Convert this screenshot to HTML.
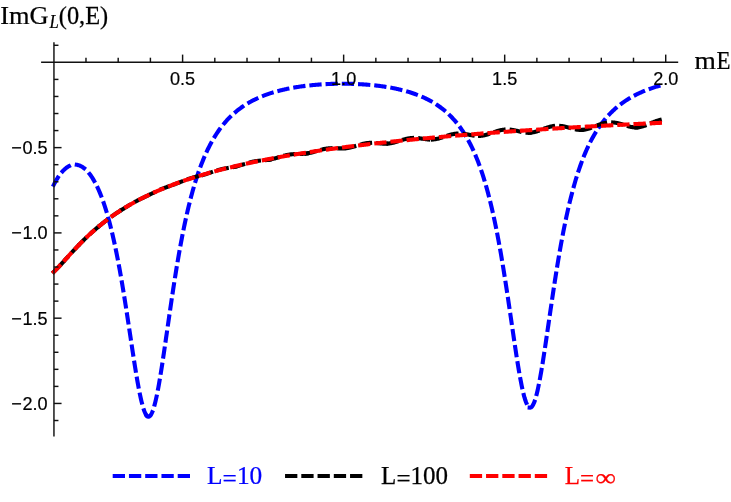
<!DOCTYPE html>
<html><head><meta charset="utf-8"><title>plot</title>
<style>
html,body{margin:0;padding:0;background:#fff;}
body{width:731px;height:502px;overflow:hidden;}
svg{display:block;will-change:transform;}
.sans{font-family:"Liberation Sans",sans-serif;font-size:18.1px;fill:#000;stroke:#000;stroke-width:0.2px;}
.serif{font-family:"Liberation Serif",serif;font-size:25px;stroke-width:0.25px;}
</style></head><body>
<svg width="731" height="502" viewBox="0 0 731 502">
<rect width="731" height="502" fill="#fff"/>
<g fill="none" stroke-width="4.1" stroke-dasharray="8.2 8.05" stroke-linejoin="round" stroke-linecap="square">
<path stroke="#0000ff" d="M53.78,184.83 L54.50,183.43 L55.23,182.07 L55.95,180.77 L56.68,179.52 L57.41,178.33 L58.13,177.18 L58.86,176.09 L59.58,175.06 L60.31,174.07 L61.03,173.14 L61.76,172.25 L62.49,171.42 L63.21,170.64 L63.94,169.91 L64.66,169.23 L65.39,168.59 L66.12,168.01 L66.84,167.47 L67.57,166.98 L68.29,166.54 L69.02,166.15 L69.74,165.80 L70.47,165.50 L71.20,165.24 L71.92,165.03 L72.65,164.87 L73.37,164.75 L74.10,164.67 L74.83,164.64 L75.55,164.66 L76.28,164.72 L77.00,164.82 L77.73,164.97 L78.45,165.17 L79.18,165.41 L79.91,165.69 L80.63,166.02 L81.36,166.40 L82.08,166.82 L82.81,167.28 L83.53,167.80 L84.26,168.35 L84.99,168.96 L85.71,169.61 L86.44,170.31 L87.16,171.06 L87.89,171.86 L88.62,172.70 L89.34,173.60 L90.07,174.55 L90.79,175.55 L91.52,176.60 L92.24,177.70 L92.97,178.86 L93.70,180.08 L94.42,181.35 L95.15,182.67 L95.87,184.06 L96.60,185.50 L97.32,187.00 L98.05,188.57 L98.78,190.19 L99.50,191.89 L100.23,193.64 L100.95,195.46 L101.68,197.35 L102.41,199.31 L103.13,201.34 L103.86,203.44 L104.58,205.62 L105.31,207.87 L106.03,210.19 L106.76,212.59 L107.49,215.08 L108.21,217.64 L108.94,220.28 L109.66,223.01 L110.39,225.82 L111.11,228.72 L111.84,231.71 L112.57,234.78 L113.29,237.94 L114.02,241.19 L114.74,244.53 L115.47,247.97 L116.20,251.49 L116.92,255.11 L117.65,258.81 L118.37,262.61 L119.10,266.50 L119.82,270.48 L120.55,274.54 L121.28,278.69 L122.00,282.93 L122.73,287.24 L123.45,291.63 L124.18,296.10 L124.90,300.63 L125.63,305.23 L126.36,309.88 L127.08,314.59 L127.81,319.34 L128.53,324.12 L129.26,328.93 L129.99,333.76 L130.71,338.59 L131.44,343.41 L132.16,348.22 L132.89,352.99 L133.61,357.72 L134.34,362.38 L135.07,366.97 L135.79,371.46 L136.52,375.84 L137.24,380.09 L137.97,384.19 L138.69,388.13 L139.42,391.88 L140.15,395.43 L140.87,398.76 L141.60,401.85 L142.32,404.69 L143.05,407.26 L143.78,409.55 L144.50,411.54 L145.23,413.21 L145.95,414.57 L146.68,415.60"/>
<path stroke="#0000ff" d="M146.68,415.60 L147.40,416.28 L148.11,416.63 L148.83,416.65 L149.55,416.33 L150.26,415.67 L150.98,414.69 L151.70,413.37 L152.42,411.74 L153.13,409.80 L153.85,407.55 L154.57,405.02 L155.28,402.21 L156.00,399.15 L156.72,395.83 L157.44,392.29 L158.15,388.54 L158.87,384.59 L159.59,380.47 L160.31,376.18 L161.02,371.75 L161.74,367.20 L162.46,362.54 L163.17,357.79 L163.89,352.96 L164.61,348.07 L165.33,343.13 L166.04,338.16 L166.76,333.17 L167.48,328.18 L168.19,323.18 L168.91,318.21 L169.63,313.25 L170.35,308.33 L171.06,303.44 L171.78,298.61 L172.50,293.82 L173.21,289.10 L173.93,284.44 L174.65,279.85 L175.37,275.33 L176.08,270.89 L176.80,266.52 L177.52,262.24 L178.23,258.04 L178.95,253.92 L179.67,249.88 L180.39,245.93 L181.10,242.07 L181.82,238.29 L182.54,234.59 L183.25,230.98 L183.97,227.46 L184.69,224.02 L185.41,220.66 L186.12,217.38 L186.84,214.18 L187.56,211.06 L188.28,208.02 L188.99,205.06 L189.71,202.17 L190.43,199.35 L191.14,196.60 L191.86,193.93 L192.58,191.32 L193.30,188.78 L194.01,186.31 L194.73,183.90 L195.45,181.55 L196.16,179.26 L196.88,177.04 L197.60,174.87 L198.32,172.75 L199.03,170.69 L199.75,168.68 L200.47,166.73 L201.18,164.83 L201.90,162.97 L202.62,161.16 L203.34,159.40 L204.05,157.68 L204.77,156.01 L205.49,154.38 L206.20,152.79 L206.92,151.23 L207.64,149.72 L208.36,148.25 L209.07,146.81 L209.79,145.41 L210.51,144.04 L211.22,142.71 L211.94,141.41 L212.66,140.14 L213.38,138.90 L214.09,137.70 L214.81,136.52 L215.53,135.37 L216.25,134.24 L216.96,133.15 L217.68,132.08 L218.40,131.03 L219.11,130.01 L219.83,129.01 L220.55,128.04 L221.27,127.09 L221.98,126.16 L222.70,125.25 L223.42,124.36 L224.13,123.50 L224.85,122.65 L225.57,121.82 L226.29,121.01 L227.00,120.22 L227.72,119.44 L228.44,118.69 L229.15,117.94 L229.87,117.22 L230.59,116.51 L231.31,115.82 L232.02,115.14 L232.74,114.48 L233.46,113.83 L234.17,113.19 L234.89,112.57 L235.61,111.96 L236.33,111.36 L237.04,110.78 L237.76,110.21 L238.48,109.65 L239.19,109.10 L239.91,108.56 L240.63,108.04 L241.35,107.52 L242.06,107.02 L242.78,106.52 L243.50,106.04 L244.22,105.56 L244.93,105.10 L245.65,104.64 L246.37,104.20 L247.08,103.76 L247.80,103.33 L248.52,102.91 L249.24,102.50 L249.95,102.09 L250.67,101.69 L251.39,101.31 L252.10,100.92 L252.82,100.55 L253.54,100.18 L254.26,99.82 L254.97,99.47 L255.69,99.12 L256.41,98.78 L257.12,98.45 L257.84,98.12 L258.56,97.80 L259.28,97.49 L259.99,97.18 L260.71,96.88 L261.43,96.58 L262.14,96.29 L262.86,96.00 L263.58,95.72 L264.30,95.44 L265.01,95.17 L265.73,94.91 L266.45,94.65 L267.16,94.39 L267.88,94.14 L268.60,93.89 L269.32,93.65 L270.03,93.42 L270.75,93.18 L271.47,92.95 L272.19,92.73 L272.90,92.51 L273.62,92.29 L274.34,92.08 L275.05,91.87 L275.77,91.67 L276.49,91.47 L277.21,91.27 L277.92,91.07 L278.64,90.89 L279.36,90.70 L280.07,90.52 L280.79,90.34 L281.51,90.16 L282.23,89.99 L282.94,89.82 L283.66,89.65 L284.38,89.49 L285.09,89.33 L285.81,89.17 L286.53,89.02 L287.25,88.86 L287.96,88.72 L288.68,88.57 L289.40,88.43 L290.11,88.29 L290.83,88.15 L291.55,88.02 L292.27,87.88 L292.98,87.75 L293.70,87.63 L294.42,87.50 L295.13,87.38 L295.85,87.26 L296.57,87.14 L297.29,87.03 L298.00,86.92 L298.72,86.81 L299.44,86.70 L300.16,86.59 L300.87,86.49 L301.59,86.39 L302.31,86.29 L303.02,86.20 L303.74,86.10 L304.46,86.01 L305.18,85.92 L305.89,85.83 L306.61,85.75 L307.33,85.66 L308.04,85.58 L308.76,85.50 L309.48,85.42 L310.20,85.34 L310.91,85.27 L311.63,85.20 L312.35,85.13 L313.06,85.06 L313.78,84.99 L314.50,84.93 L315.22,84.87 L315.93,84.80 L316.65,84.74 L317.37,84.69 L318.08,84.63 L318.80,84.58 L319.52,84.52 L320.24,84.47 L320.95,84.42 L321.67,84.38 L322.39,84.33 L323.10,84.29 L323.82,84.25 L324.54,84.21 L325.26,84.17 L325.97,84.13 L326.69,84.09 L327.41,84.06 L328.13,84.03 L328.84,84.00 L329.56,83.97 L330.28,83.94 L330.99,83.91 L331.71,83.89 L332.43,83.87 L333.15,83.84 L333.86,83.83 L334.58,83.81 L335.30,83.79 L336.01,83.78 L336.73,83.76 L337.45,83.75 L338.17,83.74 L338.88,83.73 L339.60,83.72 L340.32,83.72 L341.03,83.71 L341.75,83.71 L342.47,83.71 L343.19,83.71 L343.90,83.71 L344.62,83.72 L345.34,83.72 L346.05,83.73 L346.77,83.74 L347.49,83.75 L348.21,83.76 L348.92,83.77 L349.64,83.79 L350.36,83.80 L351.07,83.82 L351.79,83.84 L352.51,83.86 L353.23,83.89 L353.94,83.91 L354.66,83.94 L355.38,83.96 L356.10,83.99 L356.81,84.02 L357.53,84.06 L358.25,84.09 L358.96,84.13 L359.68,84.17 L360.40,84.20 L361.12,84.25 L361.83,84.29 L362.55,84.33 L363.27,84.38 L363.98,84.43 L364.70,84.48 L365.42,84.53 L366.14,84.58 L366.85,84.64 L367.57,84.69 L368.29,84.75 L369.00,84.81 L369.72,84.88 L370.44,84.94 L371.16,85.01 L371.87,85.08 L372.59,85.15 L373.31,85.22 L374.02,85.29 L374.74,85.37 L375.46,85.45 L376.18,85.53 L376.89,85.61 L377.61,85.70 L378.33,85.79 L379.04,85.87 L379.76,85.97 L380.48,86.06 L381.20,86.16 L381.91,86.25 L382.63,86.35 L383.35,86.46 L384.07,86.56 L384.78,86.67 L385.50,86.78 L386.22,86.89 L386.93,87.01 L387.65,87.13 L388.37,87.25 L389.09,87.37 L389.80,87.49 L390.52,87.62 L391.24,87.75 L391.95,87.89 L392.67,88.02 L393.39,88.16 L394.11,88.31 L394.82,88.45 L395.54,88.60 L396.26,88.75 L396.97,88.91 L397.69,89.06 L398.41,89.22 L399.13,89.39 L399.84,89.56 L400.56,89.73 L401.28,89.90 L401.99,90.08 L402.71,90.26 L403.43,90.45 L404.15,90.64 L404.86,90.83 L405.58,91.02 L406.30,91.22 L407.01,91.43 L407.73,91.64 L408.45,91.85 L409.17,92.07 L409.88,92.29 L410.60,92.51 L411.32,92.74 L412.04,92.98 L412.75,93.22 L413.47,93.46 L414.19,93.71 L414.90,93.96 L415.62,94.22 L416.34,94.49 L417.06,94.76 L417.77,95.03 L418.49,95.31 L419.21,95.60 L419.92,95.89 L420.64,96.19 L421.36,96.49 L422.08,96.80 L422.79,97.11 L423.51,97.43 L424.23,97.76 L424.94,98.10 L425.66,98.44 L426.38,98.79 L427.10,99.14 L427.81,99.51 L428.53,99.88 L429.25,100.26 L429.96,100.64 L430.68,101.04 L431.40,101.44 L432.12,101.85 L432.83,102.27 L433.55,102.70 L434.27,103.13 L434.98,103.58 L435.70,104.03 L436.42,104.50 L437.14,104.97 L437.85,105.46 L438.57,105.96 L439.29,106.46 L440.01,106.98 L440.72,107.51 L441.44,108.05 L442.16,108.60 L442.87,109.16 L443.59,109.74 L444.31,110.33 L445.03,110.93 L445.74,111.54 L446.46,112.17 L447.18,112.82 L447.89,113.47 L448.61,114.15 L449.33,114.83 L450.05,115.54 L450.76,116.26 L451.48,116.99 L452.20,117.75 L452.91,118.52 L453.63,119.31 L454.35,120.11 L455.07,120.94 L455.78,121.79 L456.50,122.65 L457.22,123.54 L457.93,124.45 L458.65,125.38 L459.37,126.33 L460.09,127.31 L460.80,128.31 L461.52,129.33 L462.24,130.38 L462.95,131.45 L463.67,132.56 L464.39,133.68 L465.11,134.84 L465.82,136.03 L466.54,137.25 L467.26,138.49 L467.98,139.77 L468.69,141.08 L469.41,142.43 L470.13,143.81 L470.84,145.23 L471.56,146.68 L472.28,148.17 L473.00,149.70 L473.71,151.27 L474.43,152.88 L475.15,154.54 L475.86,156.23 L476.58,157.97 L477.30,159.76 L478.02,161.60 L478.73,163.48 L479.45,165.42 L480.17,167.41 L480.88,169.45 L481.60,171.54 L482.32,173.70 L483.04,175.90 L483.75,178.17 L484.47,180.50 L485.19,182.90 L485.90,185.35 L486.62,187.87 L487.34,190.46 L488.06,193.12 L488.77,195.85 L489.49,198.65 L490.21,201.52 L490.92,204.47 L491.64,207.49 L492.36,210.59 L493.08,213.77 L493.79,217.03 L494.51,220.38 L495.23,223.80 L495.95,227.31 L496.66,230.90 L497.38,234.58 L498.10,238.34 L498.81,242.18 L499.53,246.11 L500.25,250.12 L500.97,254.22 L501.68,258.40 L502.40,262.65 L503.12,266.99 L503.83,271.41 L504.55,275.89 L505.27,280.45 L505.99,285.07 L506.70,289.75 L507.42,294.49 L508.14,299.28 L508.85,304.11 L509.57,308.98 L510.29,313.88 L511.01,318.79 L511.72,323.71 L512.44,328.63 L513.16,333.54 L513.87,338.42 L514.59,343.26 L515.31,348.04 L516.03,352.76 L516.74,357.39 L517.46,361.92 L518.18,366.34 L518.89,370.62 L519.61,374.75 L520.33,378.71 L521.05,382.49 L521.76,386.06 L522.48,389.41 L523.20,392.52 L523.92,395.38 L524.63,397.97 L525.35,400.28 L526.07,402.29 L526.78,404.00 L527.50,405.39 L528.22,406.46 L528.94,407.19 L529.65,407.59"/>
<path stroke="#0000ff" d="M529.65,407.59 L530.37,407.65 L531.09,407.38 L531.81,406.76 L532.53,405.81 L533.25,404.52 L533.97,402.92 L534.69,401.00 L535.41,398.78 L536.13,396.27 L536.85,393.49 L537.57,390.44 L538.29,387.15 L539.01,383.63 L539.73,379.89 L540.45,375.97 L541.17,371.86 L541.89,367.60 L542.61,363.20 L543.33,358.67 L544.05,354.03 L544.77,349.31 L545.49,344.51 L546.21,339.65 L546.93,334.75 L547.65,329.81 L548.37,324.86 L549.09,319.90 L549.81,314.95 L550.53,310.01 L551.25,305.10 L551.97,300.22 L552.69,295.38 L553.41,290.59 L554.13,285.85 L554.85,281.17 L555.57,276.56 L556.29,272.02 L557.01,267.55 L557.73,263.16 L558.45,258.84 L559.17,254.61 L559.89,250.46 L560.61,246.39 L561.33,242.40 L562.05,238.51 L562.77,234.69 L563.49,230.96 L564.21,227.32 L564.93,223.76 L565.65,220.28 L566.37,216.89 L567.09,213.58 L567.81,210.35 L568.53,207.20 L569.25,204.13 L569.97,201.14 L570.69,198.22 L571.41,195.38 L572.13,192.60 L572.85,189.90 L573.57,187.27 L574.29,184.71 L575.01,182.21 L575.72,179.78 L576.44,177.41 L577.16,175.11 L577.88,172.86 L578.60,170.67 L579.32,168.54 L580.04,166.46 L580.76,164.44 L581.48,162.47 L582.20,160.55 L582.92,158.68 L583.64,156.86 L584.36,155.08 L585.08,153.35 L585.80,151.67 L586.52,150.02 L587.24,148.42 L587.96,146.86 L588.68,145.34 L589.40,143.86 L590.12,142.41 L590.84,141.00 L591.56,139.63 L592.28,138.29 L593.00,136.98 L593.72,135.70 L594.44,134.46 L595.16,133.24 L595.88,132.06 L596.60,130.90 L597.32,129.77 L598.04,128.67 L598.76,127.59 L599.48,126.54 L600.20,125.52 L600.92,124.51 L601.64,123.53 L602.36,122.58 L603.08,121.64 L603.80,120.73 L604.52,119.84 L605.24,118.97 L605.96,118.11 L606.68,117.28 L607.40,116.47 L608.12,115.67 L608.84,114.89 L609.56,114.13 L610.28,113.38 L611.00,112.65 L611.72,111.94 L612.44,111.24 L613.16,110.56 L613.88,109.89 L614.60,109.23 L615.32,108.59 L616.04,107.97 L616.76,107.35 L617.48,106.75 L618.20,106.16 L618.92,105.58 L619.64,105.02 L620.36,104.46 L621.08,103.92 L621.80,103.39 L622.52,102.86 L623.24,102.35 L623.96,101.85 L624.68,101.36 L625.40,100.88 L626.12,100.40 L626.84,99.94 L627.56,99.49 L628.28,99.04 L629.00,98.60 L629.72,98.17 L630.44,97.75 L631.16,97.34 L631.88,96.93 L632.60,96.53 L633.32,96.14 L634.04,95.76 L634.76,95.38 L635.48,95.01 L636.19,94.65 L636.91,94.29 L637.63,93.94 L638.35,93.60 L639.07,93.26 L639.79,92.93 L640.51,92.60 L641.23,92.28 L641.95,91.97 L642.67,91.66 L643.39,91.35 L644.11,91.05 L644.83,90.76 L645.55,90.47 L646.27,90.19 L646.99,89.91 L647.71,89.63 L648.43,89.36 L649.15,89.09 L649.87,88.83 L650.59,88.58 L651.31,88.32 L652.03,88.07 L652.75,87.83 L653.47,87.59 L654.19,87.35 L654.91,87.12 L655.63,86.89 L656.35,86.66 L657.07,86.44 L657.79,86.22 L658.51,86.00 L659.23,85.79 L659.95,85.58 L660.67,85.38 L661.39,85.18 L662.11,84.98 L662.83,84.78 L663.55,84.59 L664.27,84.39 L664.99,84.21 L665.71,84.02"/>
<path stroke="#000000" d="M53.78,271.85 L54.27,271.37 L54.76,270.89 L55.26,270.40 L55.75,269.91 L56.25,269.41 L56.74,268.90 L57.23,268.39 L57.73,267.88 L58.22,267.36 L58.72,266.84 L59.21,266.31 L59.70,265.78 L60.20,265.25 L60.69,264.71 L61.18,264.18 L61.68,263.64"/>
<path stroke="#000000" d="M61.68,263.64 L62.15,263.12 L62.63,262.59 L63.10,262.07 L63.58,261.55 L64.05,261.02 L64.53,260.50 L65.00,259.97 L65.47,259.45 L65.95,258.92 L66.42,258.39 L66.90,257.87 L67.37,257.34 L67.85,256.82 L68.32,256.29 L68.80,255.77 L69.27,255.24 L69.75,254.72 L70.22,254.20 L70.69,253.68 L71.17,253.16 L71.64,252.64 L72.12,252.12 L72.59,251.61 L73.07,251.10 L73.54,250.58 L74.02,250.07 L74.49,249.56 L74.96,249.06 L75.44,248.55 L75.91,248.05 L76.39,247.55 L76.86,247.05 L77.34,246.55 L77.81,246.06 L78.29,245.56 L78.76,245.07 L79.24,244.58 L79.71,244.10"/>
<path stroke="#000000" d="M79.71,244.10 L80.19,243.61 L80.66,243.12 L81.14,242.64 L81.62,242.16 L82.10,241.68 L82.57,241.20 L83.05,240.73 L83.53,240.25 L84.01,239.78 L84.48,239.32 L84.96,238.85 L85.44,238.39 L85.92,237.92 L86.39,237.47 L86.87,237.01 L87.35,236.55 L87.82,236.10 L88.30,235.65 L88.78,235.21 L89.26,234.76 L89.73,234.32 L90.21,233.88 L90.69,233.44 L91.17,233.01 L91.64,232.58 L92.12,232.15 L92.60,231.72 L93.08,231.30 L93.55,230.88 L94.03,230.46 L94.51,230.04 L94.98,229.63 L95.46,229.22 L95.94,228.81 L96.42,228.40 L96.89,228.00 L97.37,227.60 L97.85,227.20 L98.33,226.80 L98.80,226.41 L99.28,226.01 L99.76,225.62"/>
<path stroke="#000000" d="M99.76,225.62 L100.23,225.23 L100.71,224.85 L101.18,224.47 L101.65,224.08 L102.13,223.71 L102.60,223.33 L103.08,222.95 L103.55,222.58 L104.03,222.20 L104.50,221.83 L104.97,221.47 L105.45,221.10 L105.92,220.73 L106.40,220.37 L106.87,220.01 L107.34,219.65 L107.82,219.29 L108.29,218.94 L108.77,218.58 L109.24,218.23 L109.71,217.89 L110.19,217.54 L110.66,217.20 L111.14,216.85 L111.61,216.52 L112.09,216.18 L112.56,215.84 L113.03,215.51 L113.51,215.18 L113.98,214.86 L114.46,214.53 L114.93,214.21 L115.40,213.89 L115.88,213.57 L116.35,213.26 L116.83,212.94 L117.30,212.63 L117.77,212.32 L118.25,212.01 L118.72,211.70 L119.20,211.40 L119.67,211.09 L120.15,210.79 L120.62,210.49 L121.09,210.19 L121.57,209.89 L122.04,209.59"/>
<path stroke="#000000" d="M122.04,209.59 L122.52,209.30 L122.99,209.00 L123.46,208.71 L123.94,208.41 L124.41,208.12 L124.88,207.82 L125.36,207.53 L125.83,207.24 L126.31,206.95 L126.78,206.66 L127.25,206.37 L127.73,206.09 L128.20,205.80 L128.67,205.52 L129.15,205.23 L129.62,204.95 L130.10,204.67 L130.57,204.39 L131.04,204.11 L131.52,203.84 L131.99,203.56 L132.47,203.29 L132.94,203.02 L133.41,202.75 L133.89,202.49 L134.36,202.22 L134.83,201.96 L135.31,201.70 L135.78,201.45 L136.26,201.19 L136.73,200.94 L137.20,200.69 L137.68,200.44 L138.15,200.20 L138.62,199.95 L139.10,199.71 L139.57,199.47 L140.05,199.24 L140.52,199.00 L140.99,198.77 L141.47,198.53 L141.94,198.30 L142.41,198.07 L142.89,197.84 L143.36,197.61 L143.84,197.38 L144.31,197.16 L144.78,196.93 L145.26,196.70 L145.73,196.47 L146.20,196.25 L146.68,196.02"/>
<path stroke="#000000" d="M146.68,196.02 L147.15,195.79 L147.63,195.57 L148.10,195.34 L148.58,195.11 L149.05,194.88 L149.53,194.65 L150.00,194.42 L150.48,194.20 L150.95,193.97 L151.43,193.74 L151.90,193.51 L152.37,193.28 L152.85,193.05 L153.32,192.82 L153.80,192.60 L154.27,192.37 L154.75,192.14 L155.22,191.92 L155.70,191.70 L156.17,191.47 L156.65,191.25 L157.12,191.03 L157.60,190.82 L158.07,190.60 L158.54,190.39 L159.02,190.18 L159.49,189.97 L159.97,189.76 L160.44,189.56 L160.92,189.36 L161.39,189.16 L161.87,188.96 L162.34,188.77 L162.82,188.58 L163.29,188.39 L163.77,188.21 L164.24,188.02 L164.72,187.84 L165.19,187.66 L165.66,187.48 L166.14,187.31 L166.61,187.13 L167.09,186.96 L167.56,186.79 L168.04,186.62 L168.51,186.45 L168.99,186.28 L169.46,186.11 L169.94,185.94 L170.41,185.77 L170.89,185.60 L171.36,185.43 L171.84,185.26 L172.31,185.09 L172.78,184.92 L173.26,184.74 L173.73,184.57"/>
<path stroke="#000000" d="M173.73,184.57 L174.20,184.40 L174.67,184.22 L175.14,184.05 L175.61,183.87 L176.08,183.69 L176.54,183.51 L177.01,183.33 L177.48,183.15 L177.95,182.97 L178.42,182.79 L178.89,182.60 L179.36,182.42 L179.82,182.23 L180.29,182.05 L180.76,181.86 L181.23,181.68 L181.70,181.49 L182.17,181.30 L182.63,181.12 L183.10,180.94 L183.57,180.75 L184.04,180.57 L184.51,180.39 L184.98,180.22 L185.45,180.04 L185.91,179.87 L186.38,179.70 L186.85,179.53 L187.32,179.36 L187.79,179.20 L188.26,179.04 L188.72,178.88 L189.19,178.73 L189.66,178.57 L190.13,178.42 L190.60,178.28 L191.07,178.14 L191.54,178.00 L192.00,177.86 L192.47,177.72 L192.94,177.59 L193.41,177.46 L193.88,177.33 L194.35,177.21 L194.81,177.08 L195.28,176.96 L195.75,176.84 L196.22,176.72 L196.69,176.60 L197.16,176.48 L197.63,176.36 L198.09,176.24 L198.56,176.12 L199.03,176.00 L199.50,175.89 L199.97,175.76 L200.44,175.64 L200.90,175.52 L201.37,175.39 L201.84,175.27 L202.31,175.14 L202.78,175.01 L203.25,174.88"/>
<path stroke="#000000" d="M203.25,174.88 L203.72,174.74 L204.19,174.60 L204.66,174.47 L205.13,174.32 L205.60,174.18 L206.07,174.03 L206.54,173.88 L207.01,173.73 L207.48,173.58 L207.95,173.42 L208.42,173.27 L208.89,173.11 L209.36,172.95 L209.83,172.79 L210.31,172.63 L210.78,172.47 L211.25,172.30 L211.72,172.14 L212.19,171.98 L212.66,171.82 L213.13,171.66 L213.60,171.50 L214.07,171.34 L214.54,171.19 L215.01,171.03 L215.48,170.88 L215.95,170.73 L216.42,170.58 L216.89,170.44 L217.36,170.30 L217.83,170.16 L218.30,170.02 L218.77,169.89 L219.25,169.76 L219.72,169.64 L220.19,169.52 L220.66,169.40 L221.13,169.29 L221.60,169.18 L222.07,169.07 L222.54,168.97 L223.01,168.87 L223.48,168.77 L223.95,168.67 L224.42,168.58 L224.89,168.50 L225.36,168.41 L225.83,168.32 L226.30,168.24 L226.77,168.16 L227.24,168.08 L227.71,168.00 L228.19,167.93 L228.66,167.85 L229.13,167.77 L229.60,167.69 L230.07,167.61 L230.54,167.53 L231.01,167.45 L231.48,167.37 L231.95,167.28 L232.42,167.20 L232.89,167.11 L233.36,167.02 L233.83,166.92 L234.30,166.83 L234.77,166.73 L235.24,166.62"/>
<path stroke="#000000" d="M235.24,166.62 L235.72,166.52 L236.19,166.41 L236.66,166.29 L237.13,166.18 L237.61,166.05 L238.08,165.93 L238.55,165.80 L239.02,165.67 L239.50,165.54 L239.97,165.40 L240.44,165.27 L240.91,165.13 L241.39,164.98 L241.86,164.84 L242.33,164.69 L242.80,164.54 L243.28,164.40 L243.75,164.25 L244.22,164.10 L244.69,163.95 L245.17,163.80 L245.64,163.65 L246.11,163.51 L246.58,163.36 L247.06,163.22 L247.53,163.08 L248.00,162.94 L248.47,162.80 L248.95,162.67 L249.42,162.54 L249.89,162.41 L250.37,162.29 L250.84,162.17 L251.31,162.05 L251.78,161.94 L252.26,161.83 L252.73,161.73 L253.20,161.63 L253.67,161.54 L254.15,161.45 L254.62,161.36 L255.09,161.28 L255.56,161.21 L256.04,161.13 L256.51,161.06 L256.98,161.00 L257.45,160.94 L257.93,160.88 L258.40,160.82 L258.87,160.77 L259.34,160.72 L259.82,160.67 L260.29,160.63 L260.76,160.58 L261.23,160.54 L261.71,160.50 L262.18,160.45 L262.65,160.41 L263.12,160.37 L263.60,160.33 L264.07,160.28 L264.54,160.24 L265.01,160.19 L265.49,160.14 L265.96,160.09 L266.43,160.03 L266.90,159.97 L267.38,159.91 L267.85,159.85 L268.32,159.78 L268.79,159.71 L269.27,159.63 L269.74,159.55"/>
<path stroke="#000000" d="M269.74,159.55 L270.21,159.46 L270.68,159.37 L271.15,159.28 L271.61,159.18 L272.08,159.08 L272.55,158.98 L273.02,158.87 L273.49,158.75 L273.96,158.63 L274.42,158.51 L274.89,158.39 L275.36,158.26 L275.83,158.13 L276.30,157.99 L276.77,157.86 L277.23,157.72 L277.70,157.58 L278.17,157.44 L278.64,157.30 L279.11,157.16 L279.58,157.02 L280.05,156.87 L280.51,156.73 L280.98,156.59 L281.45,156.45 L281.92,156.32 L282.39,156.18 L282.86,156.05 L283.32,155.92 L283.79,155.79 L284.26,155.67 L284.73,155.55 L285.20,155.43 L285.67,155.32 L286.14,155.21 L286.60,155.11 L287.07,155.01 L287.54,154.92 L288.01,154.83 L288.48,154.74 L288.95,154.67 L289.41,154.59 L289.88,154.52 L290.35,154.46 L290.82,154.40 L291.29,154.35 L291.76,154.30 L292.23,154.26 L292.69,154.22 L293.16,154.18 L293.63,154.15 L294.10,154.12 L294.57,154.09 L295.04,154.07 L295.50,154.05 L295.97,154.04 L296.44,154.02 L296.91,154.01 L297.38,154.00 L297.85,153.99 L298.31,153.98 L298.78,153.97 L299.25,153.96 L299.72,153.94 L300.19,153.93 L300.66,153.92 L301.13,153.90 L301.59,153.88 L302.06,153.86 L302.53,153.84 L303.00,153.81 L303.47,153.78 L303.94,153.75 L304.40,153.71 L304.87,153.67 L305.34,153.62 L305.81,153.56 L306.28,153.51 L306.75,153.44"/>
<path stroke="#000000" d="M306.75,153.44 L307.22,153.38 L307.69,153.30 L308.16,153.22 L308.63,153.14 L309.10,153.05 L309.57,152.95 L310.04,152.85 L310.51,152.75 L310.98,152.64 L311.45,152.52 L311.92,152.41 L312.39,152.28 L312.86,152.16 L313.33,152.03 L313.81,151.90 L314.28,151.76 L314.75,151.62 L315.22,151.48 L315.69,151.34 L316.16,151.20 L316.63,151.06 L317.10,150.92 L317.57,150.77 L318.04,150.63 L318.51,150.49 L318.98,150.35 L319.45,150.21 L319.92,150.08 L320.39,149.94 L320.86,149.81 L321.33,149.69 L321.80,149.57 L322.27,149.45 L322.75,149.33 L323.22,149.22 L323.69,149.12 L324.16,149.02 L324.63,148.92 L325.10,148.83 L325.57,148.75 L326.04,148.67 L326.51,148.60 L326.98,148.53 L327.45,148.47 L327.92,148.41 L328.39,148.36 L328.86,148.32 L329.33,148.28 L329.80,148.25 L330.27,148.22 L330.74,148.20 L331.22,148.18 L331.69,148.17 L332.16,148.16 L332.63,148.16 L333.10,148.16 L333.57,148.17 L334.04,148.17 L334.51,148.18 L334.98,148.19 L335.45,148.21 L335.92,148.23 L336.39,148.24 L336.86,148.26 L337.33,148.28 L337.80,148.30 L338.27,148.32 L338.74,148.33 L339.21,148.35 L339.68,148.36 L340.16,148.37 L340.63,148.38 L341.10,148.39 L341.57,148.39 L342.04,148.39 L342.51,148.38 L342.98,148.37 L343.45,148.36 L343.92,148.34 L344.39,148.31 L344.86,148.28 L345.33,148.24 L345.80,148.20 L346.27,148.15"/>
<path stroke="#000000" d="M346.27,148.15 L346.74,148.09 L347.21,148.03 L347.67,147.96 L348.14,147.89 L348.61,147.81 L349.08,147.72 L349.54,147.63 L350.01,147.53 L350.48,147.43 L350.94,147.32 L351.41,147.21 L351.88,147.09 L352.35,146.97 L352.81,146.84 L353.28,146.71 L353.75,146.58 L354.22,146.44 L354.68,146.30 L355.15,146.16 L355.62,146.02 L356.08,145.87 L356.55,145.73 L357.02,145.58 L357.49,145.44 L357.95,145.29 L358.42,145.15 L358.89,145.00 L359.35,144.86 L359.82,144.72 L360.29,144.59 L360.76,144.45 L361.22,144.32 L361.69,144.20 L362.16,144.08 L362.63,143.96 L363.09,143.84 L363.56,143.74 L364.03,143.63 L364.49,143.54 L364.96,143.44 L365.43,143.36 L365.90,143.28 L366.36,143.20 L366.83,143.14 L367.30,143.08 L367.76,143.02 L368.23,142.97 L368.70,142.93 L369.17,142.89 L369.63,142.87 L370.10,142.84 L370.57,142.82 L371.04,142.81 L371.50,142.81 L371.97,142.81 L372.44,142.81 L372.90,142.82 L373.37,142.84 L373.84,142.86 L374.31,142.88 L374.77,142.91 L375.24,142.94 L375.71,142.98 L376.17,143.01 L376.64,143.05 L377.11,143.09 L377.58,143.14 L378.04,143.18 L378.51,143.23 L378.98,143.27 L379.45,143.31 L379.91,143.36 L380.38,143.40 L380.85,143.44 L381.31,143.48 L381.78,143.51 L382.25,143.55 L382.72,143.58 L383.18,143.60 L383.65,143.62 L384.12,143.64 L384.58,143.65 L385.05,143.66 L385.52,143.66 L385.99,143.65 L386.45,143.64 L386.92,143.62 L387.39,143.59 L387.86,143.56 L388.32,143.52"/>
<path stroke="#000000" d="M388.32,143.52 L388.79,143.48 L389.26,143.42 L389.73,143.36 L390.20,143.30 L390.67,143.22 L391.14,143.14 L391.61,143.06 L392.08,142.96 L392.55,142.86 L393.01,142.75 L393.48,142.64 L393.95,142.52 L394.42,142.40 L394.89,142.27 L395.36,142.14 L395.83,142.01 L396.30,141.87 L396.77,141.72 L397.24,141.58 L397.71,141.43 L398.18,141.28 L398.65,141.13 L399.11,140.97 L399.58,140.82 L400.05,140.67 L400.52,140.52 L400.99,140.36 L401.46,140.21 L401.93,140.07 L402.40,139.92 L402.87,139.78 L403.34,139.64 L403.81,139.50 L404.28,139.37 L404.75,139.24 L405.22,139.12 L405.68,139.00 L406.15,138.88 L406.62,138.78 L407.09,138.67 L407.56,138.58 L408.03,138.49 L408.50,138.41 L408.97,138.33 L409.44,138.26 L409.91,138.20 L410.38,138.14 L410.85,138.09 L411.32,138.05 L411.78,138.01 L412.25,137.98 L412.72,137.96 L413.19,137.95 L413.66,137.94 L414.13,137.94 L414.60,137.94 L415.07,137.95 L415.54,137.97 L416.01,138.00 L416.48,138.02 L416.95,138.06 L417.42,138.10 L417.88,138.14 L418.35,138.19 L418.82,138.24 L419.29,138.30 L419.76,138.36 L420.23,138.42 L420.70,138.48 L421.17,138.55 L421.64,138.62 L422.11,138.69 L422.58,138.75 L423.05,138.82 L423.52,138.89 L423.98,138.96 L424.45,139.03 L424.92,139.09 L425.39,139.15 L425.86,139.21 L426.33,139.27 L426.80,139.32 L427.27,139.36 L427.74,139.41 L428.21,139.44 L428.68,139.48 L429.15,139.50 L429.62,139.52 L430.09,139.54 L430.55,139.54 L431.02,139.54 L431.49,139.54 L431.96,139.52 L432.43,139.50 L432.90,139.47"/>
<path stroke="#000000" d="M432.90,139.47 L433.37,139.43 L433.83,139.38 L434.30,139.33 L434.77,139.27 L435.23,139.20 L435.70,139.12 L436.17,139.04 L436.63,138.95 L437.10,138.85 L437.56,138.75 L438.03,138.64 L438.50,138.52 L438.96,138.40 L439.43,138.27 L439.90,138.14 L440.36,138.00 L440.83,137.85 L441.30,137.71 L441.76,137.56 L442.23,137.41 L442.70,137.25 L443.16,137.09 L443.63,136.94 L444.09,136.78 L444.56,136.62 L445.03,136.46 L445.49,136.30 L445.96,136.14 L446.43,135.98 L446.89,135.82 L447.36,135.67 L447.83,135.52 L448.29,135.37 L448.76,135.23 L449.23,135.08 L449.69,134.95 L450.16,134.82 L450.62,134.69 L451.09,134.57 L451.56,134.45 L452.02,134.34 L452.49,134.24 L452.96,134.14 L453.42,134.05 L453.89,133.96 L454.36,133.88 L454.82,133.81 L455.29,133.75 L455.76,133.69 L456.22,133.64 L456.69,133.60 L457.15,133.57 L457.62,133.54 L458.09,133.52 L458.55,133.51 L459.02,133.50 L459.49,133.51 L459.95,133.51 L460.42,133.53 L460.89,133.55 L461.35,133.58 L461.82,133.62 L462.29,133.66 L462.75,133.71 L463.22,133.76 L463.68,133.82 L464.15,133.88 L464.62,133.95 L465.08,134.02 L465.55,134.09 L466.02,134.17 L466.48,134.25 L466.95,134.34 L467.42,134.43 L467.88,134.51 L468.35,134.60 L468.82,134.69 L469.28,134.79 L469.75,134.88 L470.21,134.97 L470.68,135.05 L471.15,135.14 L471.61,135.23 L472.08,135.31 L472.55,135.39 L473.01,135.46 L473.48,135.54 L473.95,135.60 L474.41,135.66 L474.88,135.72 L475.35,135.77 L475.81,135.82 L476.28,135.85 L476.74,135.89 L477.21,135.91 L477.68,135.93 L478.14,135.94 L478.61,135.94 L479.08,135.93 L479.54,135.92 L480.01,135.89"/>
<path stroke="#000000" d="M480.01,135.89 L480.48,135.86 L480.95,135.82 L481.41,135.77 L481.88,135.71 L482.35,135.65 L482.82,135.57 L483.29,135.49 L483.76,135.40 L484.22,135.30 L484.69,135.20 L485.16,135.09 L485.63,134.97 L486.10,134.84 L486.57,134.71 L487.03,134.57 L487.50,134.43 L487.97,134.28 L488.44,134.13 L488.91,133.97 L489.38,133.81 L489.84,133.65 L490.31,133.49 L490.78,133.32 L491.25,133.15 L491.72,132.98 L492.19,132.81 L492.65,132.64 L493.12,132.47 L493.59,132.30 L494.06,132.13 L494.53,131.97 L495.00,131.80 L495.46,131.64 L495.93,131.49 L496.40,131.33 L496.87,131.18 L497.34,131.04 L497.81,130.90 L498.27,130.76 L498.74,130.63 L499.21,130.51 L499.68,130.39 L500.15,130.27 L500.62,130.17 L501.08,130.07 L501.55,129.98 L502.02,129.89 L502.49,129.81 L502.96,129.74 L503.43,129.68 L503.89,129.62 L504.36,129.58 L504.83,129.54 L505.30,129.50 L505.77,129.48 L506.24,129.46 L506.70,129.45 L507.17,129.45 L507.64,129.46 L508.11,129.47 L508.58,129.49 L509.05,129.52 L509.51,129.56 L509.98,129.60 L510.45,129.65 L510.92,129.71 L511.39,129.77 L511.86,129.84 L512.32,129.91 L512.79,129.99 L513.26,130.07 L513.73,130.16 L514.20,130.25 L514.67,130.35 L515.13,130.45 L515.60,130.55 L516.07,130.66 L516.54,130.76 L517.01,130.87 L517.48,130.99 L517.94,131.10 L518.41,131.21 L518.88,131.32 L519.35,131.43 L519.82,131.54 L520.29,131.65 L520.75,131.75 L521.22,131.86 L521.69,131.96 L522.16,132.05 L522.63,132.14 L523.10,132.23 L523.56,132.31 L524.03,132.39 L524.50,132.46 L524.97,132.52 L525.44,132.58 L525.91,132.63 L526.37,132.67 L526.84,132.70 L527.31,132.73 L527.78,132.74 L528.25,132.75 L528.72,132.75 L529.18,132.74 L529.65,132.73"/>
<path stroke="#000000" d="M529.65,132.73 L530.12,132.70 L530.58,132.66 L531.05,132.62 L531.52,132.56 L531.98,132.50 L532.45,132.43 L532.91,132.35 L533.38,132.26 L533.85,132.16 L534.31,132.06 L534.78,131.95 L535.24,131.83 L535.71,131.70 L536.17,131.57 L536.64,131.43 L537.11,131.28 L537.57,131.13 L538.04,130.97 L538.50,130.81 L538.97,130.65 L539.44,130.48 L539.90,130.31 L540.37,130.14 L540.83,129.96 L541.30,129.78 L541.77,129.60 L542.23,129.43 L542.70,129.25 L543.16,129.07 L543.63,128.89 L544.09,128.71 L544.56,128.54 L545.03,128.36 L545.49,128.19 L545.96,128.03 L546.42,127.86 L546.89,127.70 L547.36,127.55 L547.82,127.40 L548.29,127.25 L548.75,127.11 L549.22,126.98 L549.69,126.85 L550.15,126.72 L550.62,126.61 L551.08,126.50 L551.55,126.39 L552.01,126.30 L552.48,126.21 L552.95,126.13 L553.41,126.05 L553.88,125.99 L554.34,125.93 L554.81,125.88 L555.28,125.83 L555.74,125.80 L556.21,125.77 L556.67,125.75 L557.14,125.74 L557.61,125.74 L558.07,125.74 L558.54,125.76 L559.00,125.78 L559.47,125.80 L559.93,125.84 L560.40,125.88 L560.87,125.93 L561.33,125.99 L561.80,126.05 L562.26,126.12 L562.73,126.20 L563.20,126.28 L563.66,126.37 L564.13,126.46 L564.59,126.56 L565.06,126.67 L565.53,126.77 L565.99,126.89 L566.46,127.00 L566.92,127.12 L567.39,127.24 L567.85,127.37 L568.32,127.49 L568.79,127.62 L569.25,127.75 L569.72,127.88 L570.18,128.01 L570.65,128.14 L571.12,128.27 L571.58,128.40 L572.05,128.52 L572.51,128.65 L572.98,128.77 L573.45,128.88 L573.91,129.00 L574.38,129.11 L574.84,129.21 L575.31,129.31 L575.77,129.40 L576.24,129.49 L576.71,129.57 L577.17,129.64 L577.64,129.71 L578.10,129.76 L578.57,129.81 L579.04,129.85 L579.50,129.89 L579.97,129.91 L580.43,129.92 L580.90,129.93 L581.36,129.93 L581.83,129.91"/>
<path stroke="#000000" d="M581.83,129.91 L582.30,129.89 L582.77,129.86 L583.23,129.81 L583.70,129.76 L584.17,129.70 L584.64,129.63 L585.10,129.55 L585.57,129.46 L586.04,129.36 L586.51,129.26 L586.97,129.14 L587.44,129.02 L587.91,128.89 L588.38,128.75 L588.85,128.61 L589.31,128.46 L589.78,128.30 L590.25,128.14 L590.72,127.97 L591.18,127.80 L591.65,127.62 L592.12,127.44 L592.59,127.26 L593.05,127.08 L593.52,126.89 L593.99,126.70 L594.46,126.51 L594.92,126.32 L595.39,126.13 L595.86,125.94 L596.33,125.75 L596.80,125.57 L597.26,125.38 L597.73,125.20 L598.20,125.02 L598.67,124.84 L599.13,124.67 L599.60,124.50 L600.07,124.33 L600.54,124.17 L601.00,124.02 L601.47,123.87 L601.94,123.72 L602.41,123.58 L602.87,123.45 L603.34,123.32 L603.81,123.20 L604.28,123.09 L604.75,122.99 L605.21,122.89 L605.68,122.80 L606.15,122.71 L606.62,122.64 L607.08,122.57 L607.55,122.51 L608.02,122.46 L608.49,122.42 L608.95,122.38 L609.42,122.36 L609.89,122.34 L610.36,122.33 L610.82,122.32 L611.29,122.33 L611.76,122.34 L612.23,122.36 L612.70,122.39 L613.16,122.43 L613.63,122.48 L614.10,122.53 L614.57,122.59 L615.03,122.66 L615.50,122.73 L615.97,122.81 L616.44,122.90 L616.90,122.99 L617.37,123.09 L617.84,123.20 L618.31,123.31 L618.77,123.43 L619.24,123.55 L619.71,123.67 L620.18,123.80 L620.65,123.94 L621.11,124.07 L621.58,124.21 L622.05,124.36 L622.52,124.50 L622.98,124.65 L623.45,124.79 L623.92,124.94 L624.39,125.09 L624.85,125.24 L625.32,125.38 L625.79,125.53 L626.26,125.67 L626.73,125.81 L627.19,125.95 L627.66,126.09 L628.13,126.22 L628.60,126.34 L629.06,126.47 L629.53,126.58 L630.00,126.69 L630.47,126.80 L630.93,126.89 L631.40,126.98 L631.87,127.07 L632.34,127.14 L632.80,127.21 L633.27,127.26 L633.74,127.31 L634.21,127.35 L634.68,127.38 L635.14,127.40 L635.61,127.41 L636.08,127.41 L636.55,127.40"/>
<path stroke="#000000" d="M636.55,127.40 L637.02,127.38 L637.49,127.35 L637.96,127.31 L638.43,127.26 L638.90,127.20 L639.37,127.13 L639.84,127.05 L640.31,126.96 L640.78,126.86 L641.25,126.75 L641.72,126.63 L642.19,126.50 L642.66,126.37 L643.13,126.23 L643.60,126.08 L644.07,125.92 L644.54,125.76 L645.01,125.59 L645.48,125.42 L645.95,125.24 L646.42,125.05 L646.89,124.87 L647.36,124.67 L647.84,124.48 L648.31,124.28 L648.78,124.09 L649.25,123.89 L649.72,123.69 L650.19,123.48 L650.66,123.28 L651.13,123.08 L651.60,122.88 L652.07,122.69 L652.54,122.49 L653.01,122.30 L653.48,122.11 L653.95,121.92 L654.42,121.74 L654.89,121.56 L655.36,121.38 L655.83,121.21 L656.30,121.05 L656.77,120.89 L657.24,120.73 L657.71,120.58 L658.18,120.44 L658.65,120.31 L659.12,120.18 L659.59,120.06 L660.07,119.94 L660.54,119.84 L661.01,119.74 L661.48,119.64 L661.95,119.56 L662.42,119.48 L662.89,119.42 L663.36,119.36 L663.83,119.31 L664.30,119.26 L664.77,119.23 L665.24,119.20 L665.71,119.18"/>
<path stroke="#ff0000" d="M53.78,271.85 L54.49,271.16 L55.21,270.45 L55.93,269.73 L56.64,269.00 L57.36,268.26 L58.08,267.51 L58.79,266.75 L59.51,265.99 L60.23,265.22 L60.94,264.44 L61.66,263.66 L62.38,262.87 L63.09,262.08 L63.81,261.29 L64.53,260.50 L65.24,259.70 L65.96,258.91 L66.67,258.11 L67.39,257.32 L68.11,256.53 L68.82,255.74 L69.54,254.95 L70.26,254.16 L70.97,253.37 L71.69,252.59 L72.41,251.81 L73.12,251.04 L73.84,250.26 L74.56,249.49 L75.27,248.73 L75.99,247.97 L76.71,247.21 L77.42,246.46 L78.14,245.71 L78.86,244.97 L79.57,244.23 L80.29,243.50 L81.01,242.77 L81.72,242.05 L82.44,241.33 L83.16,240.62 L83.87,239.91 L84.59,239.21 L85.31,238.52 L86.02,237.82 L86.74,237.14 L87.45,236.46 L88.17,235.78 L88.89,235.11 L89.60,234.45 L90.32,233.79 L91.04,233.14 L91.75,232.49 L92.47,231.85 L93.19,231.21 L93.90,230.58 L94.62,229.95 L95.34,229.33 L96.05,228.71 L96.77,228.10 L97.49,227.49 L98.20,226.89 L98.92,226.30 L99.64,225.71 L100.35,225.12 L101.07,224.54 L101.79,223.96 L102.50,223.39 L103.22,222.83 L103.94,222.27 L104.65,221.71 L105.37,221.16 L106.09,220.61 L106.80,220.07 L107.52,219.53 L108.23,219.00 L108.95,218.47 L109.67,217.94 L110.38,217.42 L111.10,216.91 L111.82,216.40 L112.53,215.89 L113.25,215.39 L113.97,214.89 L114.68,214.40 L115.40,213.91 L116.12,213.42 L116.83,212.94 L117.55,212.46 L118.27,211.98 L118.98,211.51 L119.70,211.05 L120.42,210.59 L121.13,210.13 L121.85,209.67 L122.57,209.22 L123.28,208.77 L124.00,208.33 L124.72,207.89 L125.43,207.45 L126.15,207.02 L126.87,206.59 L127.58,206.16 L128.30,205.74 L129.01,205.32 L129.73,204.90 L130.45,204.49 L131.16,204.08 L131.88,203.67 L132.60,203.27 L133.31,202.87 L134.03,202.47 L134.75,202.08 L135.46,201.68 L136.18,201.30 L136.90,200.91 L137.61,200.53 L138.33,200.15 L139.05,199.77 L139.76,199.40 L140.48,199.03 L141.20,198.66 L141.91,198.29 L142.63,197.93 L143.35,197.57 L144.06,197.21 L144.78,196.86 L145.50,196.50 L146.21,196.15 L146.93,195.81 L147.64,195.46 L148.36,195.12 L149.08,194.78 L149.79,194.44 L150.51,194.11 L151.23,193.77 L151.94,193.44 L152.66,193.11 L153.38,192.79 L154.09,192.46 L154.81,192.14 L155.53,191.82 L156.24,191.51 L156.96,191.19 L157.68,190.88 L158.39,190.57 L159.11,190.26 L159.83,189.95 L160.54,189.65 L161.26,189.35 L161.98,189.05 L162.69,188.75 L163.41,188.45 L164.13,188.16 L164.84,187.87 L165.56,187.58 L166.28,187.29 L166.99,187.00 L167.71,186.72 L168.42,186.43 L169.14,186.15 L169.86,185.87 L170.57,185.60 L171.29,185.32 L172.01,185.05 L172.72,184.77 L173.44,184.50 L174.16,184.24 L174.87,183.97 L175.59,183.70 L176.31,183.44 L177.02,183.18 L177.74,182.92 L178.46,182.66 L179.17,182.40 L179.89,182.14 L180.61,181.89 L181.32,181.64 L182.04,181.39 L182.76,181.14 L183.47,180.89 L184.19,180.64 L184.91,180.40 L185.62,180.15 L186.34,179.91 L187.06,179.67 L187.77,179.43 L188.49,179.19 L189.20,178.96 L189.92,178.72 L190.64,178.49 L191.35,178.25 L192.07,178.02 L192.79,177.79 L193.50,177.56 L194.22,177.34 L194.94,177.11 L195.65,176.89 L196.37,176.66 L197.09,176.44 L197.80,176.22 L198.52,176.00 L199.24,175.78 L199.95,175.56 L200.67,175.35 L201.39,175.13 L202.10,174.92 L202.82,174.71 L203.54,174.50 L204.25,174.29 L204.97,174.08 L205.69,173.87 L206.40,173.66 L207.12,173.46 L207.84,173.25 L208.55,173.05 L209.27,172.85 L209.98,172.64 L210.70,172.44 L211.42,172.25 L212.13,172.05 L212.85,171.85 L213.57,171.65 L214.28,171.46 L215.00,171.26 L215.72,171.07 L216.43,170.88 L217.15,170.69 L217.87,170.50 L218.58,170.31 L219.30,170.12 L220.02,169.93 L220.73,169.75 L221.45,169.56 L222.17,169.38 L222.88,169.19 L223.60,169.01 L224.32,168.83 L225.03,168.65 L225.75,168.47 L226.47,168.29 L227.18,168.11 L227.90,167.93 L228.61,167.76 L229.33,167.58 L230.05,167.41 L230.76,167.23 L231.48,167.06 L232.20,166.89 L232.91,166.72 L233.63,166.55 L234.35,166.38 L235.06,166.21 L235.78,166.04 L236.50,165.87 L237.21,165.71 L237.93,165.54 L238.65,165.38 L239.36,165.21 L240.08,165.05 L240.80,164.89 L241.51,164.72 L242.23,164.56 L242.95,164.40 L243.66,164.24 L244.38,164.08 L245.10,163.93 L245.81,163.77 L246.53,163.61 L247.25,163.46 L247.96,163.30 L248.68,163.15 L249.39,162.99 L250.11,162.84 L250.83,162.69 L251.54,162.53 L252.26,162.38 L252.98,162.23 L253.69,162.08 L254.41,161.93 L255.13,161.78 L255.84,161.64 L256.56,161.49 L257.28,161.34 L257.99,161.20 L258.71,161.05 L259.43,160.91 L260.14,160.76 L260.86,160.62 L261.58,160.48 L262.29,160.33 L263.01,160.19 L263.73,160.05 L264.44,159.91 L265.16,159.77 L265.88,159.63 L266.59,159.49 L267.31,159.35 L268.03,159.22 L268.74,159.08 L269.46,158.94 L270.17,158.81 L270.89,158.67 L271.61,158.54 L272.32,158.40 L273.04,158.27 L273.76,158.14 L274.47,158.00 L275.19,157.87 L275.91,157.74 L276.62,157.61 L277.34,157.48 L278.06,157.35 L278.77,157.22 L279.49,157.09 L280.21,156.96 L280.92,156.83 L281.64,156.71 L282.36,156.58 L283.07,156.45 L283.79,156.33 L284.51,156.20 L285.22,156.08 L285.94,155.95 L286.66,155.83 L287.37,155.71 L288.09,155.58 L288.81,155.46 L289.52,155.34 L290.24,155.22 L290.95,155.10 L291.67,154.98 L292.39,154.86 L293.10,154.74 L293.82,154.62 L294.54,154.50 L295.25,154.38 L295.97,154.26 L296.69,154.15 L297.40,154.03 L298.12,153.91 L298.84,153.80 L299.55,153.68 L300.27,153.57 L300.99,153.45 L301.70,153.34 L302.42,153.22 L303.14,153.11 L303.85,153.00 L304.57,152.88 L305.29,152.77 L306.00,152.66 L306.72,152.55 L307.44,152.44 L308.15,152.33 L308.87,152.22 L309.59,152.11 L310.30,152.00 L311.02,151.89 L311.73,151.78 L312.45,151.67 L313.17,151.56 L313.88,151.46 L314.60,151.35 L315.32,151.24 L316.03,151.14 L316.75,151.03 L317.47,150.92 L318.18,150.82 L318.90,150.71 L319.62,150.61 L320.33,150.51 L321.05,150.40 L321.77,150.30 L322.48,150.20 L323.20,150.09 L323.92,149.99 L324.63,149.89 L325.35,149.79 L326.07,149.69 L326.78,149.59 L327.50,149.48 L328.22,149.38 L328.93,149.28 L329.65,149.19 L330.36,149.09 L331.08,148.99 L331.80,148.89 L332.51,148.79 L333.23,148.69 L333.95,148.60 L334.66,148.50 L335.38,148.40 L336.10,148.30 L336.81,148.21 L337.53,148.11 L338.25,148.02 L338.96,147.92 L339.68,147.83 L340.40,147.73 L341.11,147.64 L341.83,147.54 L342.55,147.45 L343.26,147.36 L343.98,147.26 L344.70,147.17 L345.41,147.08 L346.13,146.99 L346.85,146.89 L347.56,146.80 L348.28,146.71 L349.00,146.62 L349.71,146.53 L350.43,146.44 L351.14,146.35 L351.86,146.26 L352.58,146.17 L353.29,146.08 L354.01,145.99 L354.73,145.90 L355.44,145.81 L356.16,145.73 L356.88,145.64 L357.59,145.55 L358.31,145.46 L359.03,145.38 L359.74,145.29 L360.46,145.20 L361.18,145.12 L361.89,145.03 L362.61,144.94 L363.33,144.86 L364.04,144.77 L364.76,144.69 L365.48,144.60 L366.19,144.52 L366.91,144.44 L367.63,144.35 L368.34,144.27 L369.06,144.18 L369.78,144.10 L370.49,144.02 L371.21,143.94 L371.92,143.85 L372.64,143.77 L373.36,143.69 L374.07,143.61 L374.79,143.53 L375.51,143.44 L376.22,143.36 L376.94,143.28 L377.66,143.20 L378.37,143.12 L379.09,143.04 L379.81,142.96 L380.52,142.88 L381.24,142.80 L381.96,142.72 L382.67,142.65 L383.39,142.57 L384.11,142.49 L384.82,142.41 L385.54,142.33 L386.26,142.25 L386.97,142.18 L387.69,142.10 L388.41,142.02 L389.12,141.95 L389.84,141.87 L390.56,141.79 L391.27,141.72 L391.99,141.64 L392.70,141.57 L393.42,141.49 L394.14,141.41 L394.85,141.34 L395.57,141.26 L396.29,141.19 L397.00,141.12 L397.72,141.04 L398.44,140.97 L399.15,140.89 L399.87,140.82 L400.59,140.75 L401.30,140.67 L402.02,140.60 L402.74,140.53 L403.45,140.45 L404.17,140.38 L404.89,140.31 L405.60,140.24 L406.32,140.17 L407.04,140.09 L407.75,140.02 L408.47,139.95 L409.19,139.88 L409.90,139.81 L410.62,139.74 L411.34,139.67 L412.05,139.60 L412.77,139.53 L413.48,139.46 L414.20,139.39 L414.92,139.32 L415.63,139.25 L416.35,139.18 L417.07,139.11 L417.78,139.04 L418.50,138.98 L419.22,138.91 L419.93,138.84 L420.65,138.77 L421.37,138.70 L422.08,138.63 L422.80,138.57 L423.52,138.50 L424.23,138.43 L424.95,138.37 L425.67,138.30 L426.38,138.23 L427.10,138.17 L427.82,138.10 L428.53,138.03 L429.25,137.97 L429.97,137.90 L430.68,137.84 L431.40,137.77 L432.11,137.71 L432.83,137.64 L433.55,137.58 L434.26,137.51 L434.98,137.45 L435.70,137.38 L436.41,137.32 L437.13,137.25 L437.85,137.19 L438.56,137.13 L439.28,137.06 L440.00,137.00 L440.71,136.94 L441.43,136.87 L442.15,136.81 L442.86,136.75 L443.58,136.68 L444.30,136.62 L445.01,136.56 L445.73,136.50 L446.45,136.44 L447.16,136.37 L447.88,136.31 L448.60,136.25 L449.31,136.19 L450.03,136.13 L450.75,136.07 L451.46,136.01 L452.18,135.94 L452.89,135.88 L453.61,135.82 L454.33,135.76 L455.04,135.70 L455.76,135.64 L456.48,135.58 L457.19,135.52 L457.91,135.46 L458.63,135.40 L459.34,135.34 L460.06,135.29 L460.78,135.23 L461.49,135.17 L462.21,135.11 L462.93,135.05 L463.64,134.99 L464.36,134.93 L465.08,134.88 L465.79,134.82 L466.51,134.76 L467.23,134.70 L467.94,134.64 L468.66,134.59 L469.38,134.53 L470.09,134.47 L470.81,134.41 L471.53,134.36 L472.24,134.30 L472.96,134.24 L473.67,134.19 L474.39,134.13 L475.11,134.08 L475.82,134.02 L476.54,133.96 L477.26,133.91 L477.97,133.85 L478.69,133.80 L479.41,133.74 L480.12,133.68 L480.84,133.63 L481.56,133.57 L482.27,133.52 L482.99,133.46 L483.71,133.41 L484.42,133.35 L485.14,133.30 L485.86,133.25 L486.57,133.19 L487.29,133.14 L488.01,133.08 L488.72,133.03 L489.44,132.98 L490.16,132.92 L490.87,132.87 L491.59,132.82 L492.31,132.76 L493.02,132.71 L493.74,132.66 L494.45,132.60 L495.17,132.55 L495.89,132.50 L496.60,132.45 L497.32,132.39 L498.04,132.34 L498.75,132.29 L499.47,132.24 L500.19,132.18 L500.90,132.13 L501.62,132.08 L502.34,132.03 L503.05,131.98 L503.77,131.93 L504.49,131.87 L505.20,131.82 L505.92,131.77 L506.64,131.72 L507.35,131.67 L508.07,131.62 L508.79,131.57 L509.50,131.52 L510.22,131.47 L510.94,131.42 L511.65,131.37 L512.37,131.32 L513.09,131.27 L513.80,131.22 L514.52,131.17 L515.23,131.12 L515.95,131.07 L516.67,131.02 L517.38,130.97 L518.10,130.92 L518.82,130.87 L519.53,130.82 L520.25,130.77 L520.97,130.73 L521.68,130.68 L522.40,130.63 L523.12,130.58 L523.83,130.53 L524.55,130.48 L525.27,130.43 L525.98,130.39 L526.70,130.34 L527.42,130.29 L528.13,130.24 L528.85,130.20 L529.57,130.15 L530.28,130.10 L531.00,130.05 L531.72,130.01 L532.43,129.96 L533.15,129.91 L533.86,129.86 L534.58,129.82 L535.30,129.77 L536.01,129.72 L536.73,129.68 L537.45,129.63 L538.16,129.58 L538.88,129.54 L539.60,129.49 L540.31,129.45 L541.03,129.40 L541.75,129.35 L542.46,129.31 L543.18,129.26 L543.90,129.22 L544.61,129.17 L545.33,129.13 L546.05,129.08 L546.76,129.03 L547.48,128.99 L548.20,128.94 L548.91,128.90 L549.63,128.85 L550.35,128.81 L551.06,128.76 L551.78,128.72 L552.50,128.68 L553.21,128.63 L553.93,128.59 L554.64,128.54 L555.36,128.50 L556.08,128.45 L556.79,128.41 L557.51,128.37 L558.23,128.32 L558.94,128.28 L559.66,128.24 L560.38,128.19 L561.09,128.15 L561.81,128.10 L562.53,128.06 L563.24,128.02 L563.96,127.97 L564.68,127.93 L565.39,127.89 L566.11,127.85 L566.83,127.80 L567.54,127.76 L568.26,127.72 L568.98,127.68 L569.69,127.63 L570.41,127.59 L571.13,127.55 L571.84,127.51 L572.56,127.46 L573.28,127.42 L573.99,127.38 L574.71,127.34 L575.42,127.30 L576.14,127.25 L576.86,127.21 L577.57,127.17 L578.29,127.13 L579.01,127.09 L579.72,127.05 L580.44,127.00 L581.16,126.96 L581.87,126.92 L582.59,126.88 L583.31,126.84 L584.02,126.80 L584.74,126.76 L585.46,126.72 L586.17,126.68 L586.89,126.64 L587.61,126.60 L588.32,126.56 L589.04,126.52 L589.76,126.48 L590.47,126.44 L591.19,126.39 L591.91,126.35 L592.62,126.31 L593.34,126.28 L594.06,126.24 L594.77,126.20 L595.49,126.16 L596.20,126.12 L596.92,126.08 L597.64,126.04 L598.35,126.00 L599.07,125.96 L599.79,125.92 L600.50,125.88 L601.22,125.84 L601.94,125.80 L602.65,125.76 L603.37,125.72 L604.09,125.69 L604.80,125.65 L605.52,125.61 L606.24,125.57 L606.95,125.53 L607.67,125.49 L608.39,125.45 L609.10,125.42 L609.82,125.38 L610.54,125.34 L611.25,125.30 L611.97,125.26 L612.69,125.23 L613.40,125.19 L614.12,125.15 L614.84,125.11 L615.55,125.07 L616.27,125.04 L616.98,125.00 L617.70,124.96 L618.42,124.92 L619.13,124.89 L619.85,124.85 L620.57,124.81 L621.28,124.77 L622.00,124.74 L622.72,124.70 L623.43,124.66 L624.15,124.63 L624.87,124.59 L625.58,124.55 L626.30,124.52 L627.02,124.48 L627.73,124.44 L628.45,124.41 L629.17,124.37 L629.88,124.33 L630.60,124.30 L631.32,124.26 L632.03,124.22 L632.75,124.19 L633.47,124.15 L634.18,124.12 L634.90,124.08 L635.61,124.04 L636.33,124.01 L637.05,123.97 L637.76,123.94 L638.48,123.90 L639.20,123.87 L639.91,123.83 L640.63,123.80 L641.35,123.76 L642.06,123.72 L642.78,123.69 L643.50,123.65 L644.21,123.62 L644.93,123.58 L645.65,123.55 L646.36,123.51 L647.08,123.48 L647.80,123.44 L648.51,123.41 L649.23,123.37 L649.95,123.34 L650.66,123.31 L651.38,123.27 L652.10,123.24 L652.81,123.20 L653.53,123.17 L654.25,123.13 L654.96,123.10 L655.68,123.06 L656.39,123.03 L657.11,123.00 L657.83,122.96 L658.54,122.93 L659.26,122.89 L659.98,122.86 L660.69,122.83 L661.41,122.79 L662.13,122.76 L662.84,122.73 L663.56,122.69 L664.28,122.66 L664.99,122.63 L665.71,122.59"/>
</g>
<g stroke="#111" stroke-width="1.45" fill="none">
<line x1="41.1" y1="62.2" x2="678.2" y2="62.2"/>
<line x1="53.95" y1="42.2" x2="53.95" y2="436.4"/>
<line x1="85.98" y1="62.2" x2="85.98" y2="57.70"/>
<line x1="118.19" y1="62.2" x2="118.19" y2="57.70"/>
<line x1="150.40" y1="62.2" x2="150.40" y2="57.70"/>
<line x1="182.60" y1="62.2" x2="182.60" y2="54.60"/>
<line x1="214.81" y1="62.2" x2="214.81" y2="57.70"/>
<line x1="247.02" y1="62.2" x2="247.02" y2="57.70"/>
<line x1="279.23" y1="62.2" x2="279.23" y2="57.70"/>
<line x1="311.43" y1="62.2" x2="311.43" y2="57.70"/>
<line x1="343.64" y1="62.2" x2="343.64" y2="54.60"/>
<line x1="375.85" y1="62.2" x2="375.85" y2="57.70"/>
<line x1="408.05" y1="62.2" x2="408.05" y2="57.70"/>
<line x1="440.26" y1="62.2" x2="440.26" y2="57.70"/>
<line x1="472.47" y1="62.2" x2="472.47" y2="57.70"/>
<line x1="504.68" y1="62.2" x2="504.68" y2="54.60"/>
<line x1="536.88" y1="62.2" x2="536.88" y2="57.70"/>
<line x1="569.09" y1="62.2" x2="569.09" y2="57.70"/>
<line x1="601.30" y1="62.2" x2="601.30" y2="57.70"/>
<line x1="633.50" y1="62.2" x2="633.50" y2="57.70"/>
<line x1="665.71" y1="62.2" x2="665.71" y2="54.60"/>
<line x1="53.95" y1="420.51" x2="58.45" y2="420.51"/>
<line x1="53.95" y1="403.45" x2="61.55" y2="403.45"/>
<line x1="53.95" y1="386.40" x2="58.45" y2="386.40"/>
<line x1="53.95" y1="369.34" x2="58.45" y2="369.34"/>
<line x1="53.95" y1="352.29" x2="58.45" y2="352.29"/>
<line x1="53.95" y1="335.23" x2="58.45" y2="335.23"/>
<line x1="53.95" y1="318.18" x2="61.55" y2="318.18"/>
<line x1="53.95" y1="301.12" x2="58.45" y2="301.12"/>
<line x1="53.95" y1="284.07" x2="58.45" y2="284.07"/>
<line x1="53.95" y1="267.01" x2="58.45" y2="267.01"/>
<line x1="53.95" y1="249.96" x2="58.45" y2="249.96"/>
<line x1="53.95" y1="232.90" x2="61.55" y2="232.90"/>
<line x1="53.95" y1="215.84" x2="58.45" y2="215.84"/>
<line x1="53.95" y1="198.79" x2="58.45" y2="198.79"/>
<line x1="53.95" y1="181.74" x2="58.45" y2="181.74"/>
<line x1="53.95" y1="164.68" x2="58.45" y2="164.68"/>
<line x1="53.95" y1="147.62" x2="61.55" y2="147.62"/>
<line x1="53.95" y1="130.57" x2="58.45" y2="130.57"/>
<line x1="53.95" y1="113.52" x2="58.45" y2="113.52"/>
<line x1="53.95" y1="96.46" x2="58.45" y2="96.46"/>
<line x1="53.95" y1="79.41" x2="58.45" y2="79.41"/>
<line x1="53.95" y1="45.30" x2="58.45" y2="45.30"/>
</g>
<g class="sans">
<text x="182.60" y="85.4" text-anchor="middle">0.5</text>
<text x="343.64" y="85.4" text-anchor="middle">1.0</text>
<text x="504.68" y="85.4" text-anchor="middle">1.5</text>
<text x="665.71" y="85.4" text-anchor="middle">2.0</text>
<text x="47.6" y="154.18" text-anchor="end">−<tspan dx="0.5">0.5</tspan></text>
<text x="47.6" y="239.45" text-anchor="end">−<tspan dx="0.5">1.0</tspan></text>
<text x="47.6" y="324.73" text-anchor="end">−<tspan dx="0.5">1.5</tspan></text>
<text x="47.6" y="410.00" text-anchor="end">−<tspan dx="0.5">2.0</tspan></text>
</g>
<g class="serif" fill="#000" stroke="#000">
<text transform="translate(0.15,23.8) scale(1.055,1)">ImG</text>
<text transform="translate(49.6,27.5) scale(0.93,1)" font-style="italic" font-size="18px">L</text>
<text transform="translate(58.8,23.8) scale(0.975,1)">(0,E)</text>
<text transform="translate(694.5,69) scale(1.10,1)">m</text>
<text transform="translate(716.6,69) scale(0.915,1)">E</text>
</g>
<g fill="none" stroke-width="4.1" stroke-dasharray="8.2 8.05" stroke-linecap="square">
<line x1="114.75" y1="475.95" x2="187.95" y2="475.95" stroke="#0000ff"/>
<line x1="287.1" y1="475.95" x2="360.85" y2="475.95" stroke="#000"/>
<line x1="471.85" y1="475.95" x2="545.5" y2="475.95" stroke="#ff0000"/>
</g>
<g class="serif">
<text transform="translate(207.1,484.1) scale(1.015,1)" fill="#0000ff" stroke="#0000ff">L<tspan dy="2.4">=</tspan><tspan dy="-2.4">10</tspan></text>
<text transform="translate(381.1,484.1)" fill="#000" stroke="#000">L<tspan dy="2.4">=</tspan><tspan dy="-2.4">100</tspan></text>
<text transform="translate(564.7,484.1)" fill="#ff0000" stroke="#ff0000">L<tspan dy="2.4">=</tspan></text>
<text transform="translate(595.6,485.8) scale(1.15,1)" fill="#ff0000" stroke="#ff0000">∞</text>
</g>
</svg>
</body></html>
